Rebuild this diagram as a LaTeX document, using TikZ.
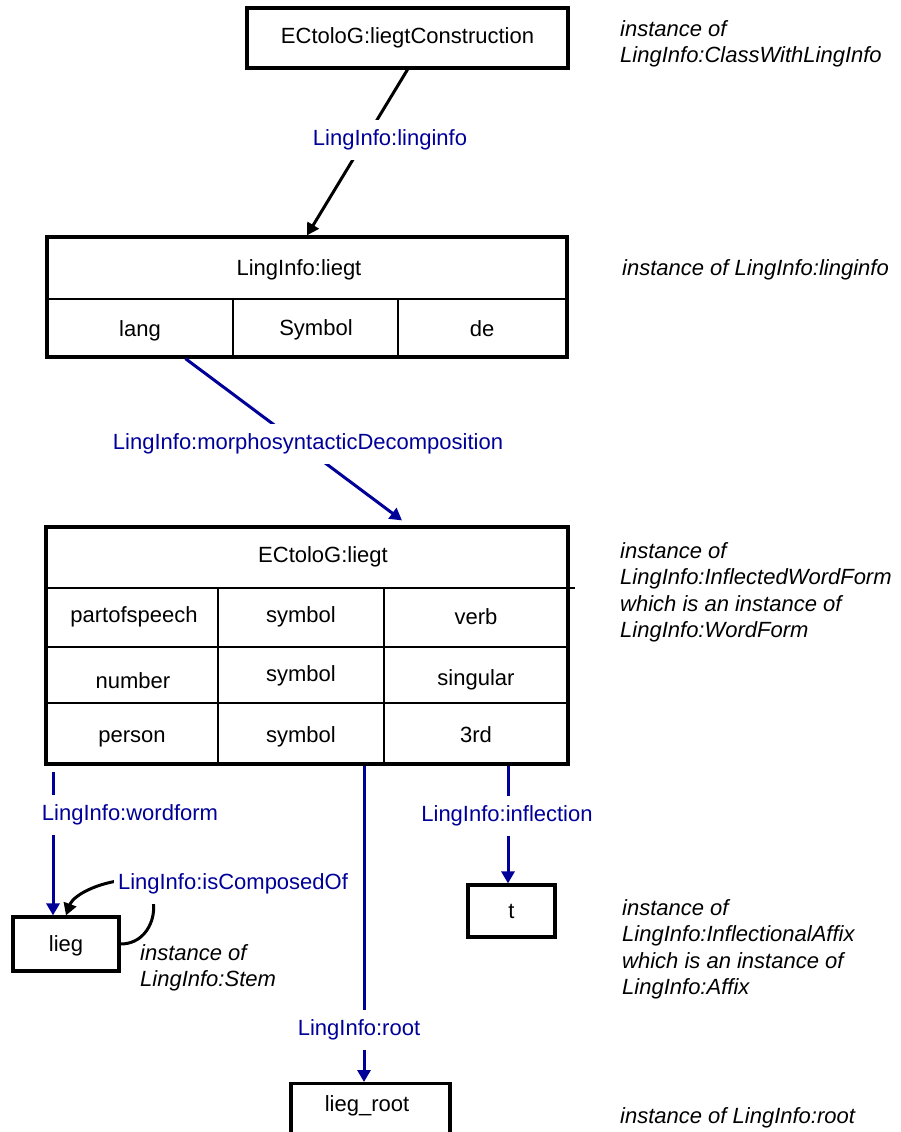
\documentclass[tikz,border=0pt]{standalone}
\usepackage{fontspec}
\setmainfont{Liberation Sans}
\usetikzlibrary{arrows.meta}

\definecolor{linkblue}{RGB}{0,0,153}

\tikzset{
  frame/.style={draw, line width=3.2pt, inner sep=0pt},
  divider/.style={line width=2.6pt},
  isa/.style={line width=3pt, -{Triangle[length=12pt,width=13pt]}},
  rel/.style={draw=linkblue, line width=3pt, -{Triangle[length=12pt,width=13pt]}},
  relname/.style={fill=white, text=linkblue, inner xsep=4pt, inner ysep=10pt},
  note/.style={anchor=north west, align=left, inner sep=0pt, font=\fontsize{22}{26.5}\selectfont\itshape},
}

\begin{document}
\begin{tikzpicture}[x=1pt,y=-1pt,font=\fontsize{22}{26.5}\selectfont]
\useasboundingbox (0,0) rectangle (900,1132);
\clip (0,0) rectangle (900,1132);

% construction on top
\node[frame, minimum width=321pt, minimum height=60pt] (construction) at (407.5,38) {ECtoloG:liegtConstruction};

% linginfo table
\node[frame, minimum width=520pt, minimum height=120pt] (ling) at (307,297) {};
\draw[divider] (47,299) -- (567,299);
\draw[divider] (233,299) -- (233,357);
\draw[divider] (398,299) -- (398,357);
\node (lingname) at (299,270) {LingInfo:liegt};
\node (lang) at (140,331) {lang};
\node (langtype) at (316,330) {Symbol};
\node (langval) at (482,329) {de};

% word form table
\node[frame, minimum width=522pt, minimum height=237pt] (form) at (307,645.5) {};
\draw[divider] (44,588) -- (575,588);
\draw[divider] (46,647) -- (568,647);
\draw[divider] (46,703) -- (568,703);
\draw[divider] (218,588) -- (218,764);
\draw[divider] (384,588) -- (384,764);
\node (formname) at (323,557) {ECtoloG:liegt};
\node (pos) at (134,617) {partofspeech};
\node (postype) at (301,617) {symbol};
\node (posval) at (476,617) {verb};
\node (num) at (133,681) {number};
\node (numtype) at (301,676) {symbol};
\node (numval) at (476,680) {singular};
\node (pers) at (132,739) {person};
\node (perstype) at (301,737) {symbol};
\node (persval) at (476,735) {3rd};

% stem, affix and root
\node[frame, minimum width=106pt, minimum height=54pt] (lieg) at (66,944) {};
\node (liegname) at (66,946) {lieg};
\node[frame, minimum width=87pt, minimum height=52pt] (affix) at (511.5,911) {t};
\node[frame, minimum width=159pt, minimum height=62pt, anchor=north] (root) at (370.5,1082) {};
\node (rootname) at (367,1106) {lieg\_root};

% relations
\draw[isa] (construction.south) -- (ling.north);
\draw[rel] ([xshift=140pt]ling.south west) -- ([xshift=95pt,yshift=5pt]form.north);
\coordinate (wf) at ([xshift=-13pt]lieg.north);
\coordinate (rt) at ([xshift=-6.5pt]root.north);
\coordinate (inf) at ([xshift=-3.5pt]affix.north);
\draw[rel, shorten <=6pt] (wf |- form.south) -- (wf);
\draw[rel] (rt |- form.south) -- (rt);
\draw[rel] (inf |- form.south) -- (inf);
\draw[isa] (lieg.east) .. controls +(40,0) and +(35,0) .. (130,880)
  .. controls +(-25,0) and +(8,-22) .. (lieg.north);

% relation names
\node[relname] (linginfo) at (390,140) {LingInfo:linginfo};
\node[relname] (decomp) at (308,444) {LingInfo:morphosyntacticDecomposition};
\node[relname] (wordform) at (130,815) {LingInfo:wordform};
\node[relname] (inflection) at (507,816) {LingInfo:inflection};
\node[relname] (composed) at (233,884) {LingInfo:isComposedOf};
\node[relname] (rootrel) at (359,1030) {LingInfo:root};

% notes
\node[note] (classnote) at (620,20) {instance of\\LingInfo:ClassWithLingInfo};
\node[note] (linginfonote) at (622,259) {instance of LingInfo:linginfo};
\node[note] (formnote) at (620,542) {instance of\\LingInfo:InflectedWordForm\\which is an instance of\\LingInfo:WordForm};
\node[note] (affixnote) at (622,899) {instance of\\LingInfo:InflectionalAffix\\which is an instance of\\LingInfo:Affix};
\node[note] (stemnote) at (140,944) {instance of\\LingInfo:Stem};
\node[note] (rootnote) at (620,1107) {instance of LingInfo:root};
\end{tikzpicture}
\end{document}
